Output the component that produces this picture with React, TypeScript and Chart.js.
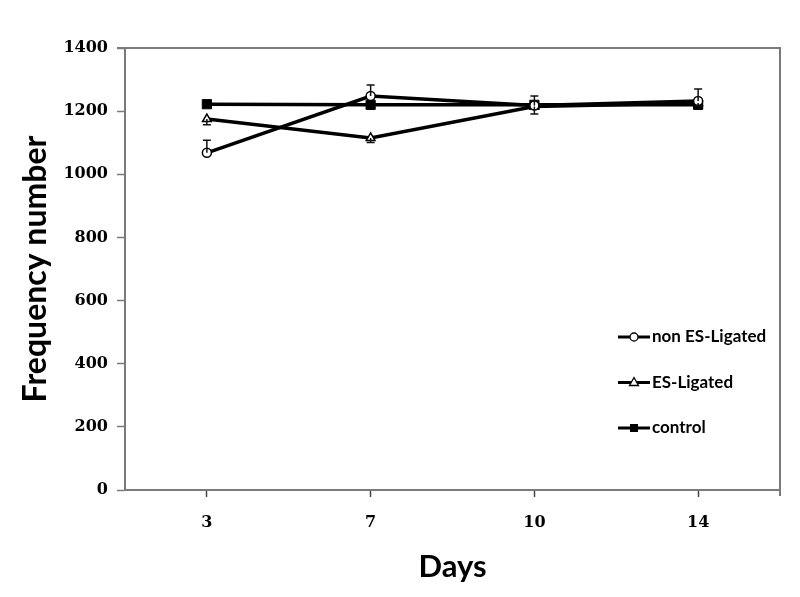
import React, { useEffect, useRef } from "react";
import { Chart, registerables } from "chart.js";

Chart.register(...registerables);

const days = ["3", "7", "10", "14"];
const nonESLigated = [1068, 1248, 1218, 1232];
const nonESLigatedErrPlus = [40, 35, 30, 38];
const esLigated = [1175, 1115, 1215, 1226];
const esLigatedErrMinus = [18, 14, 24, 8];
const control = [1222, 1220, 1220, 1220];
const yTicks = [0, 200, 400, 600, 800, 1000, 1200, 1400];

const seriesNames = ["non ES-Ligated", "ES-Ligated", "control"];

const AXIS_COLOR = "#7a7a7a";

const errorBarPlugin = {
  id: "errorBars",
  afterDatasetsDraw(chart: any) {
    const ctx = chart.ctx;
    const xs = chart.scales.x;
    const ys = chart.scales.y;
    const draw = (vals: number[], errs: number[], dir: number) => {
      vals.forEach((v, i) => {
        const x = xs.getPixelForValue(i);
        const y0 = ys.getPixelForValue(v);
        const y1 = ys.getPixelForValue(v + dir * errs[i]);
        ctx.save();
        ctx.strokeStyle = "#111";
        ctx.lineWidth = 1.5;
        ctx.beginPath();
        ctx.moveTo(x, y0);
        ctx.lineTo(x, y1);
        ctx.moveTo(x - 4, y1);
        ctx.lineTo(x + 4, y1);
        ctx.stroke();
        ctx.restore();
      });
    };
    draw(nonESLigated, nonESLigatedErrPlus, 1);
    draw(esLigated, esLigatedErrMinus, -1);
  },
};

const framePlugin = {
  id: "frame",
  afterDraw(chart: any) {
    const { ctx, chartArea } = chart;
    ctx.save();
    ctx.strokeStyle = AXIS_COLOR;
    ctx.lineWidth = 2;
    ctx.beginPath();
    ctx.moveTo(chartArea.left - 8, chartArea.top);
    ctx.lineTo(chartArea.right, chartArea.top);
    ctx.lineTo(chartArea.right, chartArea.bottom + 6);
    ctx.stroke();
    ctx.restore();

    // legend
    const lx = chartArea.right - 162;
    const startY = chartArea.top + 289;
    const gap = 45.5;
    const styles = ["circle", "triangle", "rect"];
    seriesNames.forEach((name, i) => {
      const y = startY + i * gap;
      ctx.save();
      ctx.strokeStyle = "#000";
      ctx.lineWidth = 3;
      ctx.beginPath();
      ctx.moveTo(lx, y);
      ctx.lineTo(lx + 32, y);
      ctx.stroke();
      const mx = lx + 16;
      ctx.lineWidth = 1.3;
      if (styles[i] === "circle") {
        ctx.fillStyle = "#fff";
        ctx.beginPath();
        ctx.arc(mx, y, 4, 0, Math.PI * 2);
        ctx.fill();
        ctx.stroke();
      } else if (styles[i] === "triangle") {
        ctx.fillStyle = "#fff";
        ctx.beginPath();
        ctx.moveTo(mx, y - 5);
        ctx.lineTo(mx + 4.5, y + 3);
        ctx.lineTo(mx - 4.5, y + 3);
        ctx.closePath();
        ctx.fill();
        ctx.stroke();
      } else {
        ctx.fillStyle = "#000";
        ctx.fillRect(mx - 4, y - 4, 8, 8);
      }
      ctx.fillStyle = "#000";
      ctx.font = "bold 17px Lato";
      ctx.textBaseline = "middle";
      ctx.textAlign = "left";
      ctx.fillText(name, lx + 34, y);
      ctx.restore();
    });
  },
};

export default function App() {
  const ref = useRef<HTMLCanvasElement>(null);
  useEffect(() => {
    document.body.style.margin = "0";
    const c = ref.current!;
    const chart = new Chart(c, {
      type: "line",
      data: {
        labels: days,
        datasets: [
          {
            label: seriesNames[0],
            data: nonESLigated,
            borderColor: "#000",
            borderWidth: 3.5,
            pointStyle: "circle",
            pointRadius: 4.5,
            pointBackgroundColor: "#fff",
            pointBorderColor: "#000",
            pointBorderWidth: 1.5,
            tension: 0,
          },
          {
            label: seriesNames[1],
            data: esLigated,
            borderColor: "#000",
            borderWidth: 3.5,
            pointStyle: "triangle",
            pointRadius: 5,
            pointBackgroundColor: "#fff",
            pointBorderColor: "#000",
            pointBorderWidth: 1.5,
            tension: 0,
          },
          {
            label: seriesNames[2],
            data: control,
            borderColor: "#000",
            borderWidth: 3.5,
            pointStyle: "rect",
            pointRadius: 6.5,
            pointBackgroundColor: "#000",
            pointBorderColor: "#000",
            pointBorderWidth: 1,
            tension: 0,
          },
        ],
      },
      options: {
        animation: false,
        responsive: false,
        maintainAspectRatio: false,
        layout: { padding: { top: 48, right: 20, left: 0, bottom: 0 } },
        plugins: {
          legend: { display: false },
          tooltip: { enabled: false },
        },
        scales: {
          x: {
            type: "category",
            offset: true,
            grid: {
              offset: false,
              drawOnChartArea: false,
              drawTicks: true,
              tickLength: 7,
              tickColor: "#444",
              tickWidth: 1.5,
            },
            border: { color: AXIS_COLOR, width: 2 },
            ticks: {
              color: "#000",
              font: { family: "DejaVu Serif", weight: "bold", size: 16 },
              padding: 16,
            },
            title: {
              display: true,
              text: "Days",
              color: "#000",
              font: { family: "Lato", weight: "bold", size: 31 },
              padding: { top: 0, bottom: 11 },
            },
            afterFit(scale: any) {
              scale.height = 107;
            },
          },
          y: {
            min: 0,
            max: 1400,
            afterBuildTicks(scale: any) {
              scale.ticks = yTicks.map((v) => ({ value: v }));
            },
            grid: {
              drawOnChartArea: false,
              drawTicks: true,
              tickLength: 8,
              tickColor: AXIS_COLOR,
              tickWidth: 1.5,
            },
            border: { color: AXIS_COLOR, width: 2 },
            ticks: {
              color: "#000",
              font: { family: "DejaVu Serif", weight: "bold", size: 16 },
              padding: 9,
              callback: (v: any) => String(v),
            },
            title: {
              display: true,
              text: "Frequency number",
              color: "#000",
              font: { family: "Lato", weight: "bold", size: 32 },
              padding: { top: 16, bottom: 0 },
            },
            afterFit(scale: any) {
              scale.width = 125;
            },
          },
        },
      },
      plugins: [errorBarPlugin, framePlugin],
    } as any);
    return () => chart.destroy();
  }, []);
  return (
    <div style={{ position: "absolute", left: 0, top: 0, width: 800, height: 597, background: "#fff" }}>
      <canvas ref={ref} width={800} height={597} />
    </div>
  );
}
